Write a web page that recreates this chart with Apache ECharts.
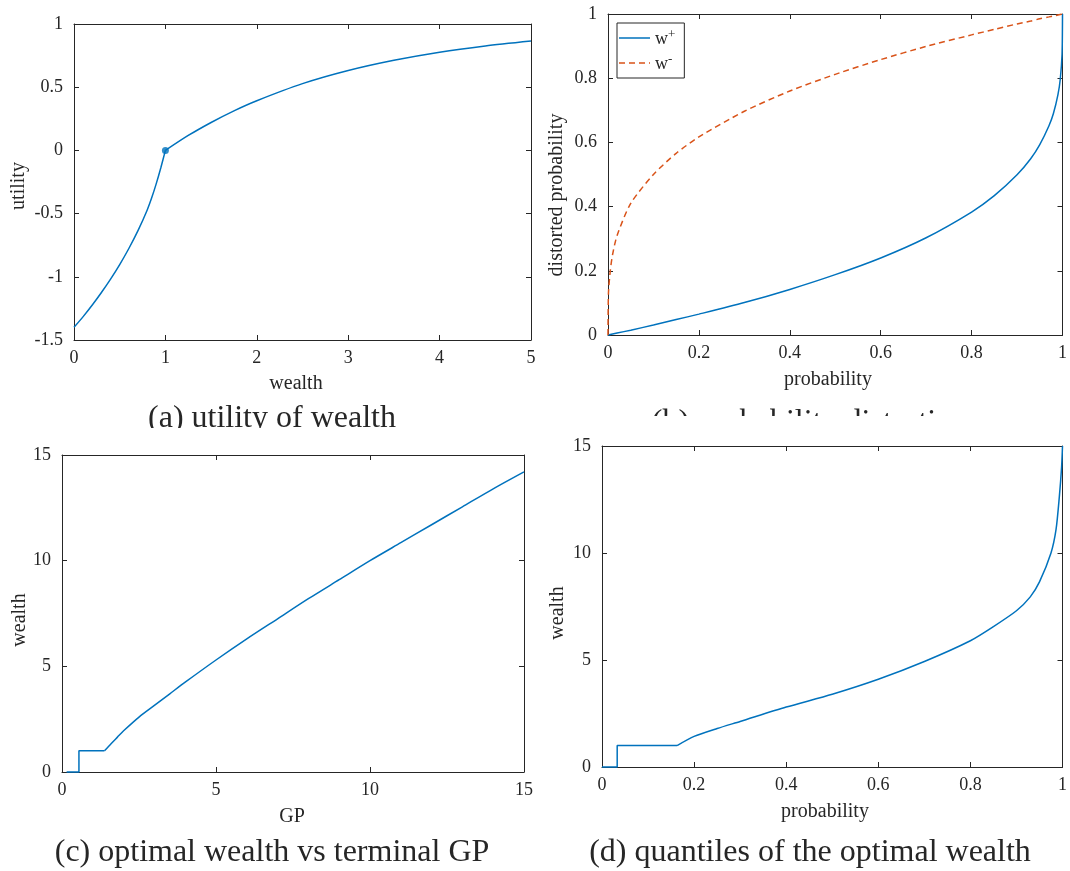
<!DOCTYPE html>
<html>
<head>
<meta charset="utf-8">
<title>Optimal wealth under prospect-type preferences</title>
<script src="https://cdn.jsdelivr.net/npm/echarts@6/dist/echarts.min.js"></script>
<style>
  html, body { margin: 0; padding: 0; background: #fff; }
  #chart { width: 1070px; height: 871px; }
</style>
</head>
<body>
<div id="chart"></div>
<script>
// (a) utility of wealth: loss branch below the reference level, gain branch above it
const lossWealth  = [0, 0.1, 0.2, 0.3, 0.4, 0.5, 0.6, 0.7, 0.8, 0.85, 0.9, 0.95, 1];
const lossUtility = [-1.40, -1.315, -1.223, -1.124, -1.018, -0.903, -0.776, -0.635, -0.473, -0.375, -0.263, -0.137, 0];
const gainWealth  = [1, 1.25, 1.5, 1.75, 2, 2.5, 3, 3.5, 4, 4.5, 5];
const gainUtility = [0, 0.118, 0.221, 0.313, 0.393, 0.528, 0.632, 0.713, 0.777, 0.826, 0.865];
const referencePoint = [1, 0];

// (b) probability distortion
const probGrid = [0, 0.001, 0.005, 0.01, 0.02, 0.05, 0.1, 0.15, 0.2, 0.3, 0.4, 0.5, 0.6, 0.7, 0.8, 0.85, 0.9, 0.93, 0.95, 0.97, 0.98, 0.99, 0.995, 0.999, 1];
const wPlus  = [0, 0.0003, 0.0015, 0.003, 0.006, 0.015, 0.031, 0.048, 0.065, 0.101, 0.142, 0.188, 0.240, 0.303, 0.383, 0.434, 0.499, 0.549, 0.593, 0.651, 0.690, 0.749, 0.796, 0.874, 1];
const wMinus = [0, 0.13, 0.20, 0.25, 0.31, 0.41, 0.50, 0.566, 0.617, 0.697, 0.760, 0.812, 0.858, 0.899, 0.935, 0.952, 0.969, 0.978, 0.985, 0.991, 0.994, 0.997, 0.9985, 0.9997, 1];

// (c) optimal wealth vs terminal GP
const gpValues  = [0.15, 0.55, 0.55, 1.38, 1.6, 1.8, 2, 2.5, 3, 3.5, 4, 5, 6, 7, 8, 9, 10, 11, 12, 13, 14, 15];
const gpWealth  = [0, 0, 1, 1, 1.35, 1.65, 1.95, 2.6, 3.15, 3.7, 4.25, 5.3, 6.3, 7.25, 8.2, 9.1, 10.0, 10.85, 11.7, 12.55, 13.4, 14.2];

// (d) quantiles of the optimal wealth
const quantProb   = [0, 0.033, 0.033, 0.163, 0.2, 0.25, 0.3, 0.4, 0.5, 0.6, 0.7, 0.8, 0.85, 0.9, 0.93, 0.95, 0.975, 0.986, 0.993, 0.998, 1];
const quantWealth = [0, 0, 1, 1, 1.43, 1.8, 2.13, 2.8, 3.4, 4.1, 4.93, 5.9, 6.56, 7.3, 7.95, 8.65, 10.0, 11.1, 12.6, 14.0, 15];

const FONT = 'Liberation Serif';
const INK = '#262626';
const BLUE = '#0072BD';
const ORANGE = '#D95319';

const zip = (xs, ys) => xs.map((x, i) => [x, ys[i]]);

// Boxed axes: labelled axis plus a mirrored, unlabelled one with inward ticks
function axisPair(kind, gridIndex, min, max, interval) {
  const line = { show: true, onZero: false, lineStyle: { color: INK, width: 1 } };
  const tick = { show: true, inside: true, length: 5, lineStyle: { color: INK, width: 1 } };
  const main = {
    type: 'value', gridIndex, min, max, interval,
    position: kind === 'x' ? 'bottom' : 'left',
    axisLine: line, axisTick: tick, splitLine: { show: false },
    axisLabel: {
      color: INK, fontFamily: FONT, fontSize: 18,
      margin: kind === 'x' ? 9 : 11,
      showMinLabel: true, showMaxLabel: true
    }
  };
  const mirror = {
    type: 'value', gridIndex, min, max, interval,
    position: kind === 'x' ? 'top' : 'right',
    axisLine: line, axisTick: tick, splitLine: { show: false },
    axisLabel: { show: false }
  };
  return [main, mirror];
}

const grids = [
  { left: 74,  top: 24,  width: 457, height: 316 },
  { left: 608, top: 14,  width: 461, height: 321 },
  { left: 62,  top: 455, width: 462, height: 317 },
  { left: 602, top: 446, width: 467, height: 321 }
];

const xAxes = [].concat(
  axisPair('x', 0, 0, 5, 1),
  axisPair('x', 1, 0, 1, 0.2),
  axisPair('x', 2, 0, 15, 5),
  axisPair('x', 3, 0, 1, 0.2)
);
const yAxes = [].concat(
  axisPair('y', 0, -1.5, 1, 0.5),
  axisPair('y', 1, 0, 1, 0.2),
  axisPair('y', 2, 0, 15, 5),
  axisPair('y', 3, 0, 15, 5)
);

function curve(name, idx, data, color, dashed) {
  return {
    name, type: 'line', xAxisIndex: idx * 2, yAxisIndex: idx * 2,
    data, symbol: 'none', showSymbol: false, clip: false, silent: true,
    smooth: 0.25,
    lineStyle: { color, width: 1.5, type: dashed ? [6, 4] : 'solid' },
    itemStyle: { color }, z: 3
  };
}
function steps(name, idx, data) {
  return {
    name, type: 'line', xAxisIndex: idx * 2, yAxisIndex: idx * 2,
    data, symbol: 'none', showSymbol: false, clip: false, silent: true,
    lineStyle: { color: BLUE, width: 1.5 }, itemStyle: { color: BLUE }, z: 3
  };
}

// Piecewise curves: flat/jump part drawn straight, rising part smoothed
const cData = zip(gpValues, gpWealth);
const dData = zip(quantProb, quantWealth);

const series = [
  curve('loss', 0, zip(lossWealth, lossUtility), BLUE, false),
  curve('gain', 0, zip(gainWealth, gainUtility), BLUE, false),
  {
    name: 'reference', type: 'scatter', xAxisIndex: 0, yAxisIndex: 0,
    data: [referencePoint], symbol: 'circle', symbolSize: 7,
    itemStyle: { color: BLUE }, silent: true, z: 4
  },
  curve('w+', 1, zip(probGrid, wPlus), BLUE, false),
  curve('w-', 1, zip(probGrid, wMinus), ORANGE, true),
  steps('gp-steps', 2, cData.slice(0, 4)),
  curve('gp-rise', 2, cData.slice(3), BLUE, false),
  steps('q-steps', 3, dData.slice(0, 4)),
  curve('q-rise', 3, dData.slice(3), BLUE, false)
];

function label(text, x, y, size, rotate) {
  return {
    type: 'text', x, y, rotation: rotate ? Math.PI / 2 : 0, z: 10,
    style: {
      text, fill: INK, font: size + 'px "' + FONT + '"',
      textAlign: 'center', textVerticalAlign: 'middle'
    }
  };
}

// Legend keys: a solid and a dashed stroke sample
const SOLID_KEY = 'path://M0,0H31V1.5H0Z';
const DASH_KEY = 'path://M0,0H6V1.5H0Z M10,0H16V1.5H10Z M20,0H26V1.5H20Z M30,0H31V1.5H30Z';

const graphics = [
  // axis titles
  label('wealth', 296, 384, 20),
  label('utility', 19, 186, 20, true),
  label('probability', 828, 380, 20),
  label('distorted probability', 557, 195, 20, true),
  label('GP', 292, 817, 20),
  label('wealth', 20, 620, 20, true),
  label('probability', 825, 812, 20),
  label('wealth', 558, 613, 20, true),
  // panel captions
  label('(a) utility of wealth', 272, 419, 32),
  label('(b) probability distortion', 810, 423, 32),
  label('(c) optimal wealth vs terminal GP', 272, 853, 32),
  label('(d) quantiles of the optimal wealth', 810, 853, 32),
  // the top-row captions are cut off along the bottom edge of the upper figures
  { type: 'rect', z: 20, shape: { x: 120, y: 428, width: 320, height: 12 }, style: { fill: '#fff' } },
  { type: 'rect', z: 20, shape: { x: 620, y: 416, width: 380, height: 22 }, style: { fill: '#fff' } }
];

const chart = echarts.init(document.getElementById('chart'), null, { renderer: 'canvas' });
chart.setOption({
  backgroundColor: '#fff',
  animation: false,
  grid: grids,
  xAxis: xAxes,
  yAxis: yAxes,
  legend: {
    data: [
      { name: 'w+', icon: SOLID_KEY },
      { name: 'w-', icon: DASH_KEY }
    ],
    orient: 'vertical',
    left: 617, top: 23,
    padding: [5, 9, 5, 2],
    itemGap: 5, itemTextGap: 2,
    itemWidth: 31, itemHeight: 1.5,
    borderColor: INK, borderWidth: 1, backgroundColor: '#fff',
    selectedMode: false,
    formatter: name => name === 'w+' ? '{b|w}{s|+}' : '{b|w}{s|-}',
    textStyle: {
      color: INK, fontFamily: FONT, lineHeight: 20,
      rich: {
        b: { fontFamily: FONT, fontSize: 18, color: INK, verticalAlign: 'bottom', lineHeight: 20 },
        s: { fontFamily: FONT, fontSize: 13, color: INK, verticalAlign: 'top', lineHeight: 20 }
      }
    }
  },
  graphic: graphics,
  series
});
</script>
</body>
</html>
